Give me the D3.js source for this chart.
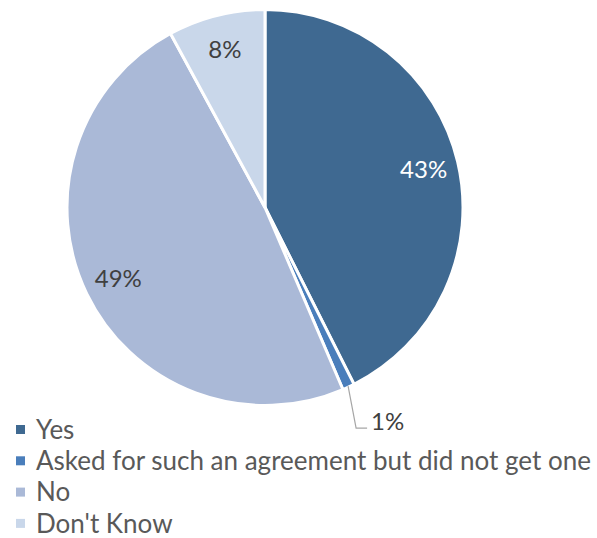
<!DOCTYPE html>
<html>
<head>
<meta charset="utf-8">
<script src="https://cdn.jsdelivr.net/npm/d3@7"></script>
<style>
  html, body { margin: 0; padding: 0; background: #fff; }
  svg { display: block; font-family: Lato, "Open Sans", sans-serif; }
</style>
</head>
<body>
<svg id="chart" width="597" height="538"></svg>
<script>
// Survey answers and their shares (percent)
const categories = ["Yes", "Asked for such an agreement but did not get one", "No", "Don't Know"];
const values = [43, 1, 49, 8];
const colors = ["#3F6991", "#4A7EBB", "#AAB9D7", "#C9D7EA"];
const labelColors = ["#FFFFFF", "#404040", "#404040", "#404040"];

const svg = d3.select("#chart");
const cx = 265, cy = 207.5, radius = 198;

const data = categories.map((c, i) => ({ name: c, value: values[i], color: colors[i], labelColor: labelColors[i] }));

const pie = d3.pie().value(d => d.value).sort(null);
const arcs = pie(data);

const arc = d3.arc().innerRadius(0).outerRadius(radius);
const labelArc = d3.arc().innerRadius(163).outerRadius(163);
const edgeArc = d3.arc().innerRadius(radius - 1).outerRadius(radius - 1);

const g = svg.append("g").attr("transform", `translate(${cx},${cy})`);

g.selectAll("path.slice")
  .data(arcs)
  .join("path")
  .attr("class", "slice")
  .attr("d", arc)
  .attr("fill", d => d.data.color)
  .attr("stroke", "#fff")
  .attr("stroke-width", 3)
  .attr("stroke-linejoin", "round");

// Inside labels for the larger slices
const small = d => d.data.value < 3;
g.selectAll("text.inlabel")
  .data(arcs.filter(d => !small(d)))
  .join("text")
  .attr("class", "inlabel")
  .attr("transform", d => `translate(${labelArc.centroid(d)})`)
  .attr("text-anchor", "middle")
  .attr("dy", "0.36em")
  .attr("font-size", 24)
  .attr("fill", d => d.data.labelColor)
  .text(d => d.data.value + "%");

// Outside label with a leader line for the thin slice
arcs.filter(small).forEach(d => {
  const [ex, ey] = edgeArc.centroid(d);
  const elbow = [ex + 8, ey + 42];
  const end = [elbow[0] + 11, elbow[1]];
  g.append("polyline")
    .attr("points", [[ex, ey], elbow, end].map(p => p.join(",")).join(" "))
    .attr("fill", "none")
    .attr("stroke", "#A6A6A6")
    .attr("stroke-width", 1.2);
  g.append("text")
    .attr("x", end[0] + 4)
    .attr("y", end[1] - 7)
    .attr("dy", "0.36em")
    .attr("font-size", 24)
    .attr("fill", d.data.labelColor)
    .text(d.data.value + "%");
});

// Legend
const legend = svg.append("g").attr("transform", "translate(16,430)");
const rowH = 31.3;
const items = legend.selectAll("g")
  .data(data)
  .join("g")
  .attr("transform", (d, i) => `translate(0,${i * rowH})`);
items.append("rect")
  .attr("x", 0).attr("y", -5)
  .attr("width", 9).attr("height", 9)
  .attr("fill", d => d.color);
items.append("text")
  .attr("x", 20)
  .attr("y", 0)
  .attr("dy", "0.34em")
  .attr("font-size", 26)
  .attr("fill", "#595959")
  .text(d => d.name);
</script>
</body>
</html>
